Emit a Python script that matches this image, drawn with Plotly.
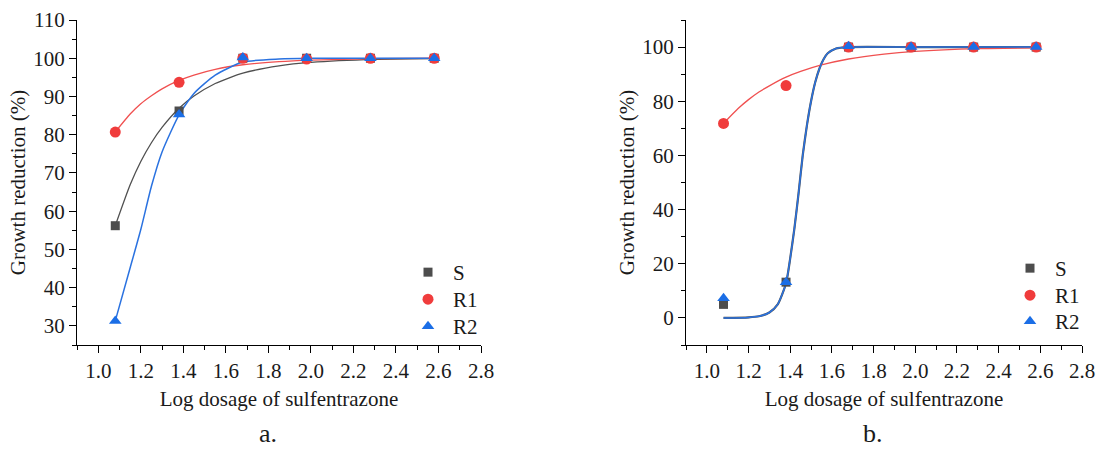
import plotly.graph_objects as go

# ---------------- data ----------------
dose = [1.08, 1.38, 1.68, 1.98, 2.28, 2.58]

# panel a (observed)
a_S = [56.2, 86.2, 100.0, 100.0, 100.0, 100.0]
a_R1 = [80.7, 93.7, 100.0, 99.8, 100.0, 100.0]
a_R2 = [31.3, 85.3, 100.2, 100.0, 100.0, 100.0]

# panel b (observed)
b_S = [5.0, 13.2, 100.0, 100.0, 100.0, 100.0]
b_R1 = [71.8, 85.8, 100.0, 100.0, 100.0, 100.0]
b_R2 = [7.3, 13.2, 100.3, 100.0, 100.0, 100.0]

# fitted curves
fa_x = [1.08, 1.15, 1.20, 1.25, 1.30, 1.38, 1.45, 1.55, 1.68, 1.85, 2.00, 2.30, 2.58]
fa_S = [56.2, 66.9, 73.0, 77.9, 81.9, 86.9, 90.1, 93.4, 96.1, 98.0, 98.9, 99.7, 99.9]
fa_R1 = [80.7, 85.4, 88.1, 90.2, 92.0, 94.2, 95.6, 97.1, 98.3, 99.1, 99.5, 99.9, 100.0]
fa_R2 = [31.3, 45.2, 55.2, 66.5, 75.5, 85.2, 90.8, 95.6, 99.0, 99.8, 100.0, 100.0, 100.0]

fb_x = [1.08, 1.20, 1.25, 1.30, 1.34, 1.38, 1.40, 1.42, 1.44, 1.46, 1.48, 1.50,
        1.52, 1.54, 1.56, 1.58, 1.62, 1.68, 2.00, 2.30, 2.58]
fb_SR2 = [0.0, 0.2, 0.6, 2.0, 5.0, 12.8, 22.0, 33.0, 46.0, 60.0, 71.0, 80.0,
          87.0, 92.0, 95.5, 97.7, 99.5, 100.0, 100.0, 100.0, 100.0]
fb_R1x = [1.08, 1.15, 1.20, 1.25, 1.30, 1.38, 1.45, 1.55, 1.68, 1.85, 2.00, 2.30, 2.58]
fb_R1 = [71.8, 77.3, 80.6, 83.4, 85.7, 88.9, 91.0, 93.4, 95.6, 97.4, 98.4, 99.4, 99.7]

names = ["S", "R1", "R2"]
x_ticks = [1.0, 1.2, 1.4, 1.6, 1.8, 2.0, 2.2, 2.4, 2.6, 2.8]

# ---------------- style ----------------
C_S, C_R1, C_R2 = "#4d4d4d", "#f03c3c", "#1b6ee6"
L_S, L_R1, L_R2 = "#505050", "#f05050", "#2a72e0"
FONT = "Times New Roman, Liberation Serif, serif"
TXT = "#1a1a1a"

fig = go.Figure()

def add_panel(xa, ya, legs, obs, fits):
    for fx, fy, col, w in fits:
        fig.add_trace(go.Scatter(x=fx, y=fy, mode="lines", xaxis=xa, yaxis=ya,
                                 line=dict(color=col, width=w, shape="spline", smoothing=0.6),
                                 showlegend=False, hoverinfo="skip"))
    symbols = ["square", "circle", "triangle-up"]
    colors = [C_S, C_R1, C_R2]
    sizes = [9, 11, 11]
    for nm, ys, sym, col, sz, lg in zip(names, obs, symbols, colors, sizes, legs):
        fig.add_trace(go.Scatter(x=dose, y=ys, mode="markers", name=nm, xaxis=xa, yaxis=ya,
                                 marker=dict(symbol=sym, color=col, size=sz),
                                 legend=lg, showlegend=True))

add_panel("x", "y", ["legend", "legend2", "legend3"], [a_S, a_R1, a_R2],
          [(fa_x, fa_S, L_S, 1.3), (fa_x, fa_R1, L_R1, 1.3), (fa_x, fa_R2, L_R2, 1.5)])
add_panel("x2", "y2", ["legend4", "legend5", "legend6"], [b_S, b_R1, b_R2],
          [(fb_x, fb_SR2, L_S, 2.2), (fb_R1x, fb_R1, L_R1, 1.3), (fb_x, fb_SR2, L_R2, 1.5)])

ydom = [1 - 345 / 450, 1 - 20 / 450]

xcommon = dict(range=[0.9, 2.8], tickvals=x_ticks, tickformat=".1f", showline=True,
               linecolor="black", linewidth=1.2, ticks="outside", ticklen=7, tickwidth=1.2,
               tickcolor="black", showgrid=False, zeroline=False, automargin=False,
               minor=dict(dtick=0.1, tick0=0.9, ticks="outside", ticklen=4, tickwidth=1.2, tickcolor="black"),
               tickfont=dict(family=FONT, size=21, color=TXT),
               title=dict(text="Log dosage of sulfentrazone", font=dict(family=FONT, size=21, color=TXT), standoff=9))
ycommon = dict(showline=True, linecolor="black", linewidth=1.2, ticks="outside", ticklen=7,
               tickwidth=1.2, tickcolor="black", showgrid=False, zeroline=False, automargin=False,
               tickfont=dict(family=FONT, size=21, color=TXT),
               title=dict(text="Growth reduction (%)", font=dict(family=FONT, size=21, color=TXT), standoff=1))

def leg(xpx, ypx):
    return dict(x=xpx / 1096, y=1 - ypx / 450, xanchor="left", yanchor="top", bgcolor="rgba(0,0,0,0)",
                font=dict(family=FONT, size=21, color=TXT), itemwidth=40)

fig.update_layout(
    width=1096, height=450, margin=dict(l=0, r=0, t=0, b=0, autoexpand=False),
    paper_bgcolor="white", plot_bgcolor="white",
    font=dict(family=FONT, color=TXT),
    xaxis={**xcommon, "domain": [77 / 1096, 481 / 1096], "anchor": "y"},
    yaxis={**ycommon, "domain": ydom, "anchor": "x", "range": [25, 110], "tick0": 30, "dtick": 10,
           "minor": dict(dtick=5, tick0=25, ticks="outside", ticklen=4, tickwidth=1.2, tickcolor="black")},
    xaxis2={**xcommon, "domain": [686 / 1096, 1082 / 1096], "anchor": "y2"},
    yaxis2={**ycommon, "domain": ydom, "anchor": "x2", "range": [-10, 110], "tick0": 0, "dtick": 20,
            "minor": dict(dtick=10, tick0=-10, ticks="outside", ticklen=4, tickwidth=1.2, tickcolor="black")},
    legend=leg(403, 252), legend2=leg(403, 279), legend3=leg(403, 306),
    legend4=leg(1005, 248), legend5=leg(1005, 275), legend6=leg(1005, 301),
    annotations=[
        dict(text="a.", x=268 / 1096, y=0, xref="paper", yref="paper", showarrow=False,
             font=dict(family=FONT, size=26, color=TXT), xanchor="center", yanchor="bottom"),
        dict(text="b.", x=873 / 1096, y=0, xref="paper", yref="paper", showarrow=False,
             font=dict(family=FONT, size=26, color=TXT), xanchor="center", yanchor="bottom"),
    ],
)

fig.write_html("out.html", config={"displayModeBar": False},
               post_script="document.body.style.margin='0';document.body.style.overflow='hidden';")
